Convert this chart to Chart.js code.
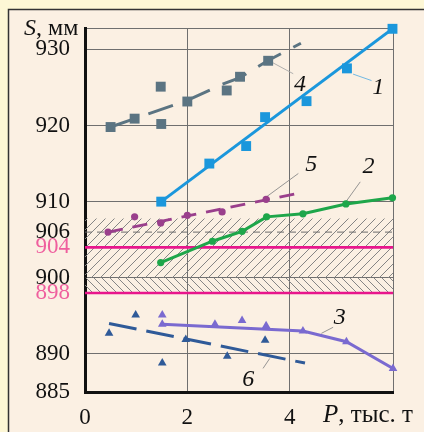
<!DOCTYPE html>
<html><head><meta charset="utf-8">
<script src="https://cdn.jsdelivr.net/npm/chart.js@4.4.0/dist/chart.umd.min.js"></script>
<style>html,body{margin:0;padding:0;background:#fdf7d5;}canvas{display:block;}</style>
</head><body><canvas id="c" width="424" height="432"></canvas>
<script>
// ---------- data ----------
const xTicks = [0, 2, 4];
const yTicks = [885, 890, 898, 900, 904, 906, 910, 920, 930];
const pinkTicks = [904, 898];
const gridTicks = [890, 900, 910, 920, 930];
const xMax = 6.02, yMin = 885, yMax = 932.7;

const s1Points = [[1.49,910.0],[2.43,915.0],[3.15,917.3],[3.52,921.1],[4.33,923.2],[5.12,927.5],[6.01,932.7]];
const s1Line   = [[1.49,910.0],[6.01,932.7]];
const s4Points = [[0.50,919.8],[0.97,920.9],[1.48,925.1],[1.49,920.2],[2.00,923.15],[2.77,924.6],[3.03,926.4],[3.58,928.5]];
const s4Line   = [[0.50,919.8],[0.97,920.9],[2.00,923.3],[2.68,925.4],[3.03,926.3],[3.57,928.5],[4.22,930.8]];
const s5Points = [[0.45,906.0],[0.97,908.0],[1.48,907.2],[2.00,908.2],[2.68,908.65],[3.54,910.3]];
const s5Line   = [[0.45,906.0],[4.17,911.1]];
const s2Points = [[1.48,902.0],[2.49,904.8],[3.07,906.1],[3.55,908.0],[4.26,908.4],[5.10,909.7],[6.01,910.5]];
const s3Points = [[1.51,895.1],[1.51,893.9],[2.54,893.9],[3.07,894.4],[3.54,893.7],[4.26,893.0],[5.11,891.6],[6.02,888.1]];
const s3Line   = [[1.51,893.9],[4.26,893.0],[5.11,891.6],[6.02,888.1]];
const s6Points = [[0.47,892.7],[0.99,895.1],[1.51,888.8],[1.97,891.9],[2.78,889.7],[3.52,891.8]];
const s6Line   = [[0.47,894.0],[4.30,888.8]];

const limitLines = [904, 898];
const nominalLine = 906;
const zoneUpper = [900, 907.8];
const zoneLower = [898, 900];

const seriesLabels = ['1', '2', '3', '4', '5', '6'];
const labelAt  = {'1':[5.73,925.0],'2':[5.54,914.6],'3':[4.98,894.8],'4':[4.20,925.4],'5':[4.42,914.8],'6':[3.19,886.6]};
const leaderAt = {'1':[[5.24,926.75],[5.60,925.9]],'2':[[5.38,912.6],[5.08,909.8]],'3':[[4.85,893.5],[4.62,892.7]],
                  '4':[[3.60,928.5],[4.07,926.8]],'5':[[4.17,913.7],[3.52,910.5]],'6':[[3.61,889.4],[3.48,888.1]]};
const leaderColor = {'1':'#62b2e2','2':'#8a8a8a','3':'#8a8a8a','4':'#a8a8a8','5':'#8a8a8a','6':'#8a8a8a'};

// ---------- helpers ----------
const P = a => a.map(([x,y]) => ({x, y}));
const H = y => [[0,y],[xMax,y]];
function hatch(dir, step, color){
  const c = document.createElement('canvas'); c.width = step; c.height = step;
  const g = c.getContext('2d'); g.strokeStyle = color; g.lineWidth = 1;
  g.beginPath();
  for (let k = -1; k <= 1; k++){
    if (dir > 0){ g.moveTo(k*step, step); g.lineTo(k*step+step, 0); }
    else { g.moveTo(k*step, 0); g.lineTo(k*step+step, step); }
  }
  g.stroke();
  return g.createPattern(c, 'repeat');
}
const SERIF = '"Liberation Serif", "DejaVu Serif", serif';

const lineDs = (data, color, width, dash, order) => ({data: P(data), showLine: true, borderColor: color, backgroundColor: color,
  borderWidth: width, borderDash: dash || [], pointRadius: 0, fill: false, order, tension: 0});
const markDs = (data, color, style, r) => ({data: P(data), showLine: false, pointStyle: style, pointRadius: r,
  pointBackgroundColor: color, pointBorderColor: color, pointBorderWidth: 0, order: 1, clip: false});

const datasets = [
  {data: P(H(zoneUpper[1])), showLine: true, borderWidth: 0, borderColor: 'rgba(0,0,0,0)', pointRadius: 0,
   fill: {value: zoneUpper[0]}, backgroundColor: hatch(1, 9, '#858585'), order: 100},
  {data: P(H(zoneLower[1])), showLine: true, borderWidth: 0, borderColor: 'rgba(0,0,0,0)', pointRadius: 0,
   fill: {value: zoneLower[0]}, backgroundColor: hatch(-1, 8, '#858585'), order: 100},
  lineDs(H(nominalLine), '#6a6a6a', 1, [7,5], 50),
  ...limitLines.map(v => lineDs(H(v), '#e8158c', 2.6, [], 50)),
  lineDs(s1Line, '#1b97dc', 3, [], 10),
  lineDs(s4Line, '#5b7482', 3, [26,14], 10),
  lineDs(s5Line, '#9a3f8c', 3, [15,10], 10),
  lineDs(s2Points, '#1ea64a', 3, [], 10),
  lineDs(s3Line, '#7a6ad0', 3, [], 10),
  lineDs(s6Line, '#2f5a98', 3, [28,10], 10),
  ...seriesLabels.map(k => lineDs(leaderAt[k], leaderColor[k], 0.9, [], 20)),
  markDs(s1Points, '#1b97dc', 'rect', 7),
  markDs(s4Points, '#5b7482', 'rect', 7),
  markDs(s5Points, '#9a3f8c', 'circle', 3.6),
  markDs(s2Points, '#1ea64a', 'circle', 3.6),
  markDs(s3Points, '#7a6ad0', 'triangle', 5),
  markDs(s6Points, '#2f5a98', 'triangle', 5),
];

const bgPlugin = {
  id: 'bg',
  beforeDraw(chart){
    const {ctx, width, height} = chart;
    ctx.save();
    ctx.fillStyle = '#fdf7d5'; ctx.fillRect(0, 0, width, height);
    ctx.fillStyle = '#fbf0e3'; ctx.fillRect(8, 9, width - 8, height - 9);
    ctx.strokeStyle = '#333'; ctx.lineWidth = 1.5;
    ctx.beginPath(); ctx.moveTo(8.5, height); ctx.lineTo(8.5, 9.5); ctx.lineTo(width, 9.5); ctx.stroke();
    ctx.restore();
  }
};

function mixed(ctx, x, y, parts){
  let cx = x;
  for (const [txt, font] of parts){ ctx.font = font; ctx.fillText(txt, cx, y); cx += ctx.measureText(txt).width; }
}
const textPlugin = {
  id: 'texts',
  afterDraw(chart){
    const {ctx, scales:{x, y}} = chart;
    ctx.save();
    ctx.fillStyle = '#111'; ctx.textBaseline = 'alphabetic'; ctx.textAlign = 'left';
    mixed(ctx, 24, 35, [['S', 'italic 24px ' + SERIF], [', мм', '24px ' + SERIF]]);
    mixed(ctx, 323, 422, [['P', 'italic 25px ' + SERIF], [', тыс. т', '25px ' + SERIF]]);
    ctx.font = 'italic 24px ' + SERIF; ctx.textAlign = 'center'; ctx.textBaseline = 'middle';
    for (const k of seriesLabels){
      const [vx, vy] = labelAt[k];
      ctx.fillText(k, x.getPixelForValue(vx), y.getPixelForValue(vy));
    }
    ctx.restore();
  }
};

new Chart(document.getElementById('c'), {
  type: 'scatter',
  data: {datasets},
  plugins: [bgPlugin, textPlugin],
  options: {
    responsive: false, animation: false, devicePixelRatio: 1,
    layout: {padding: {left: 0, top: 27, right: 31, bottom: 0}},
    plugins: {legend: {display: false}, tooltip: {enabled: false}},
    scales: {
      x: {
        type: 'linear', min: 0, max: xMax,
        afterBuildTicks: s => { s.ticks = [...xTicks, xMax].map(v => ({value: v})); },
        afterFit: s => { s.height = 40; },
        ticks: {autoSkip: false, maxRotation: 0, padding: 12, color: '#111',
                font: {family: SERIF, size: 23},
                callback: v => xTicks.includes(v) ? String(v) : ''},
        grid: {drawTicks: false, lineWidth: 1,
               color: c => (c.tick && c.tick.value > 0) ? '#6f6f6f' : 'rgba(0,0,0,0)'},
        border: {display: true, color: '#111', width: 3}
      },
      y: {
        type: 'linear', min: yMin, max: yMax,
        afterBuildTicks: s => { s.ticks = [...yTicks, yMax].map(v => ({value: v})); },
        afterFit: s => { s.width = 85; },
        ticks: {autoSkip: false, padding: 15,
                font: {family: SERIF, size: 23},
                color: c => pinkTicks.includes(c.tick.value) ? '#ef5f9e' : '#111',
                callback: v => yTicks.includes(v) ? String(v) : ''},
        grid: {drawTicks: false, lineWidth: 1,
               color: c => (c.tick && (gridTicks.includes(c.tick.value) || c.tick.value === yMax)) ? '#6f6f6f' : 'rgba(0,0,0,0)'},
        border: {display: true, color: '#111', width: 3}
      }
    }
  }
});
</script>
</body></html>
